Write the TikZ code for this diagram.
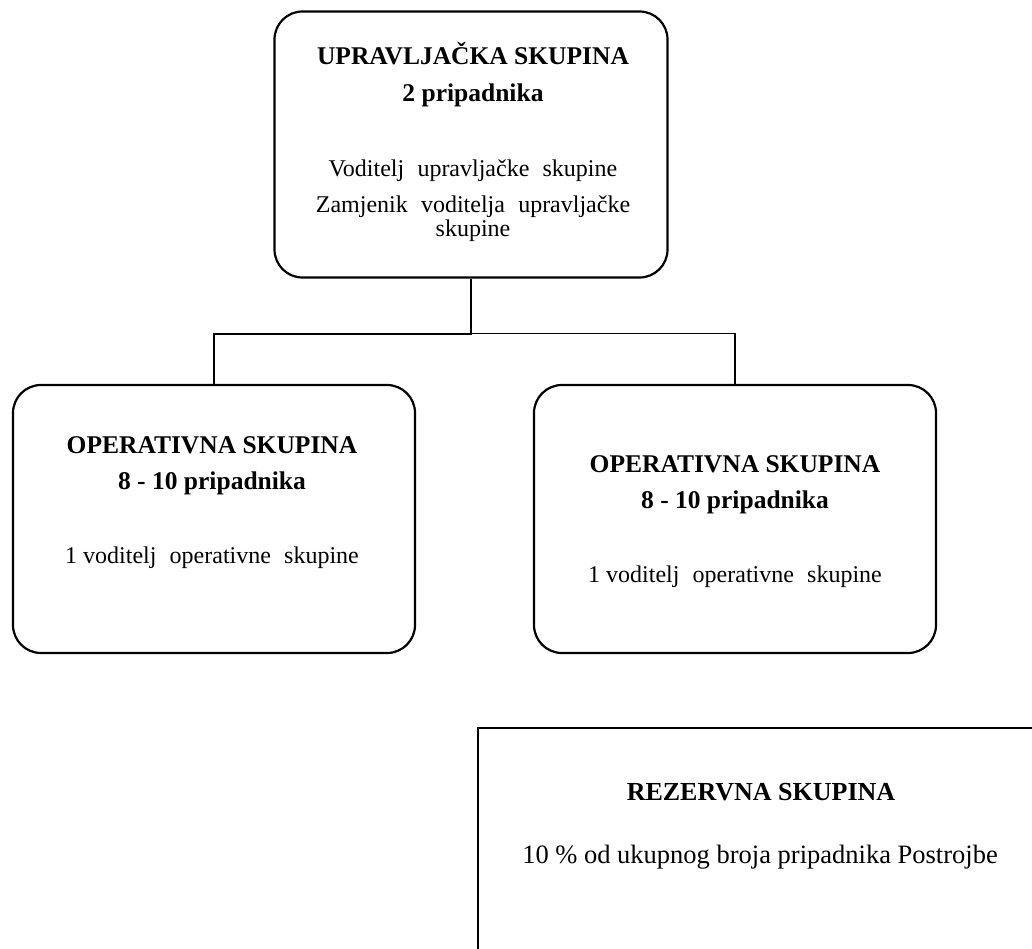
\documentclass[tikz,border=0pt]{standalone}
\usepackage{fontspec}
\setmainfont{Liberation Serif}
\usetikzlibrary{positioning}

\newcommand{\wgap}{\hspace{0.55em}}

\tikzset{
  grpbox/.style={draw,rounded corners=28pt,line width=2.2pt,inner sep=0pt},
  rezbox/.style={draw,line width=2.2pt,inner sep=0pt,minimum width=567pt,minimum height=234pt},
  head/.style={font=\bfseries\fontsize{25.5}{30}\selectfont,anchor=base,inner sep=0pt},
  body/.style={font=\fontsize{24}{28}\selectfont,anchor=base,inner sep=0pt},
  rezhead/.style={font=\bfseries\fontsize{26}{30}\selectfont,anchor=base,inner sep=0pt},
  rezbody/.style={font=\fontsize{26.5}{30}\selectfont,anchor=base,inner sep=0pt}
}

\begin{document}
\begin{tikzpicture}[x=1pt,y=1pt]
			\clip (0,0) rectangle (1032,-949);
			\fill[white] (0,0) rectangle (1032,-949);
			% upravljacka skupina
			\draw (471,-144.5) node [grpbox,minimum width=393pt,minimum height=266pt] (upr) {};
			\draw (473,-65) node [head] (uprT) {UPRAVLJAČKA SKUPINA};
			\draw (473,-102) node [head] (uprN) {2 pripadnika};
			\draw (473,-177) node [body] (uprA) {Voditelj\wgap upravljačke\wgap skupine};
			\draw (473,-213) node [body] (uprB) {Zamjenik\wgap voditelja\wgap upravljačke};
			\draw (473,-237) node [body] (uprC) {skupine};
			% operativne skupine
			\draw (214,-519) node [grpbox,minimum width=402pt,minimum height=268pt] (opl) {};
			\draw (212,-453) node [head] (oplT) {OPERATIVNA SKUPINA};
			\draw (212,-489) node [head] (oplN) {8 - 10 pripadnika};
			\draw (212,-563) node [body] (oplA) {1 voditelj\wgap operativne\wgap skupine};
			\draw (735,-519) node [grpbox,minimum width=402pt,minimum height=268pt] (opr) {};
			\draw (735,-472) node [head] (oprT) {OPERATIVNA SKUPINA};
			\draw (735,-508) node [head] (oprN) {8 - 10 pripadnika};
			\draw (735,-582) node [body] (oprA) {1 voditelj\wgap operativne\wgap skupine};
			% rezervna skupina
			\draw (761.5,-845) node [rezbox] (rez) {};
			\draw (761,-800) node [rezhead] (rezT) {REZERVNA SKUPINA};
			\draw (760,-863) node [rezbody] (rezA) {10 \% od ukupnog broja pripadnika Postrojbe};
			% veze
			\coordinate [below=55pt of upr] (split);
			\draw[line width=2.2pt] (upr.south) -- (split) -| (opl.north);
			\draw[line width=1.2pt] (split) -| (opr.north);
		\end{tikzpicture}
\end{document}
